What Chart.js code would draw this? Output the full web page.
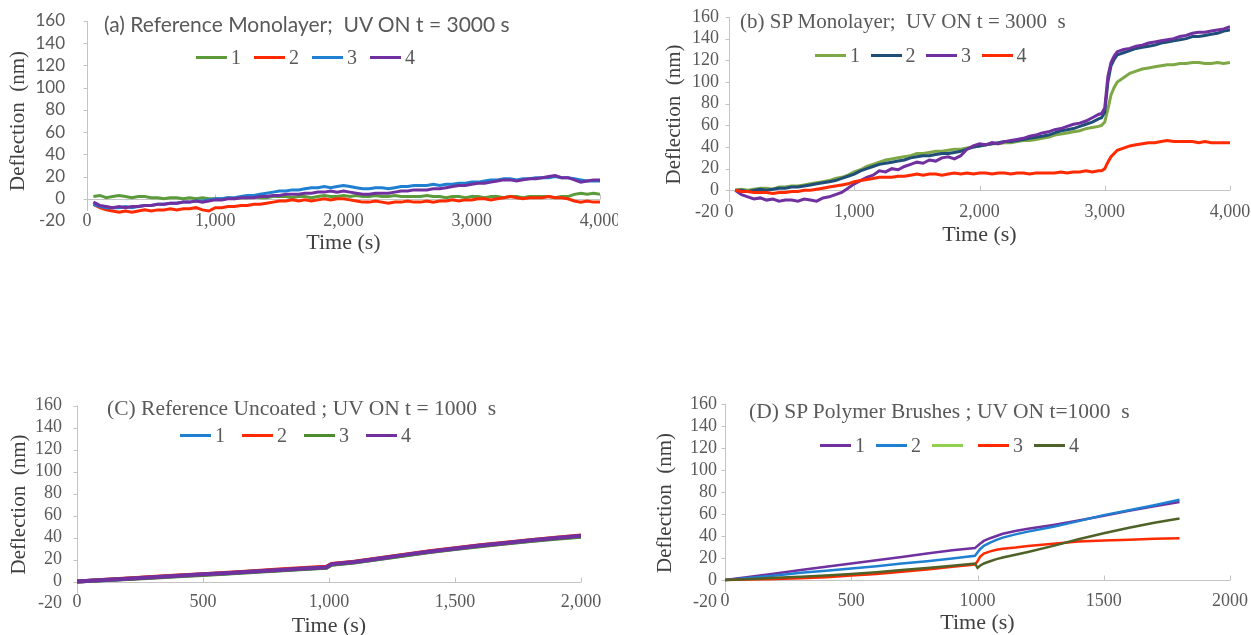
<!DOCTYPE html>
<html>
<head>
<meta charset="utf-8">
<title>Deflection vs time</title>
<script src="https://cdn.jsdelivr.net/npm/chart.js@4.4.1/dist/chart.umd.min.js"></script>
<style>
  html, body { margin: 0; padding: 0; background: #fff; }
  #page { position: relative; width: 1251px; height: 635px; overflow: hidden; }
  canvas { position: absolute; }
  .title { position: absolute; white-space: pre; color: #595959; line-height: 24px; height: 24px; }
  .legend { position: absolute; display: flex; align-items: center; height: 24px;
            font-family: 'Liberation Serif', 'DejaVu Serif', serif; font-size: 20px; color: #595959; }
  .legend .item { display: flex; align-items: center; }
  .legend .swatch { display: inline-block; width: 31px; height: 3px; }
  .legend .lbl { margin-left: 4px; }
</style>
</head>
<body>
<div id="page">
  <canvas id="chartA" width="618" height="262" style="left:0;top:0"></canvas>
  <canvas id="chartB" width="621" height="262" style="left:630px;top:0"></canvas>
  <canvas id="chartC" width="625" height="250" style="left:0;top:385px"></canvas>
  <canvas id="chartD" width="621" height="250" style="left:630px;top:385px"></canvas>
</div>
<script>
// ---- (a) Reference Monolayer, UV ON at 3000 s ----
const aTime = [50,100,150,200,250,300,350,400,450,500,550,600,650,700,750,800,850,900,950,1000,
  1050,1100,1150,1200,1250,1300,1350,1400,1450,1500,1550,1600,1650,1700,1750,1800,1850,1900,1950,2000,
  2050,2100,2150,2200,2250,2300,2350,2400,2450,2500,2550,2600,2650,2700,2750,2800,2850,2900,2950,3000,
  3050,3100,3150,3200,3250,3300,3350,3400,3450,3500,3550,3600,3650,3700,3750,3800,3850,3900,3950,4000];
const aLabels = ['1', '2', '3', '4'];
const aSeries1 = [2,3,1,2,3,2,1,2,2,1, 1,0,1,1,0,1,0,1,0,0, 0,1,0,1,1,2,1,1,2,2, 2,1,2,2,1,2,3,2,2,3,
  2,3,2,2,3,2,2,3,2,2, 2,2,3,2,2,1,2,2,1,2, 2,1,2,2,1,2,2,1,2,2, 2,2,1,2,2,4,5,4,5,4];
const aSeries2 = [-5,-8,-10,-11,-12,-11,-12,-11,-10,-11, -10,-10,-9,-10,-9,-9,-8,-10,-11,-8,
  -8,-7,-7,-6,-6,-5,-5,-4,-3,-2, -2,-1,-2,-1,-2,-1,0,-1,0,0, -1,-2,-3,-3,-2,-3,-4,-3,-3,-2,
  -3,-3,-2,-3,-2,-2,-1,-2,-1,-1, 0,0,-1,0,1,2,1,0,1,1, 1,2,1,1,0,-2,-3,-2,-3,-3];
const aSeries3 = [-5,-7,-8,-8,-8,-7,-8,-7,-6,-6, -5,-5,-4,-4,-3,-3,-2,-2,-1,0, 0,1,1,2,3,3,4,5,6,7,
  7,8,8,9,10,10,11,10,11,12, 11,10,9,9,10,10,9,10,11,11, 12,12,12,13,12,13,13,14,14,15,
  15,16,17,17,18,18,17,18,18,19, 19,19,20,19,19,18,17,16,16,16];
const aSeries4 = [-3,-6,-7,-8,-7,-8,-7,-7,-6,-6, -5,-5,-4,-4,-3,-3,-2,-3,-2,-1, -1,0,0,1,1,1,2,2,3,3,
  4,4,4,5,5,6,6,7,6,7, 6,5,4,4,5,5,5,6,7,7, 8,8,8,9,9,10,11,12,12,13,
  14,14,15,16,17,17,16,17,18,18, 19,20,21,19,19,17,15,16,17,17];

// ---- (b) SP Monolayer, UV ON at 3000 s ----
const bTime = [50,100,150,200,250,300,350,400,450,500,550,600,650,700,750,800,850,900,950,1000,
  1050,1100,1150,1200,1250,1300,1350,1400,1450,1500,1550,1600,1650,1700,1750,1800,1850,1900,1950,2000,
  2050,2100,2150,2200,2250,2300,2350,2400,2450,2500,2550,2600,2650,2700,2750,2800,2850,2900,2950,
  2975,3000,3025,3050,3075,3100,
  3150,3200,3250,3300,3350,3400,3450,3500,3550,3600,3650,3700,3750,3800,3850,3900,3950,4000];
const bLabels = ['1', '2', '3', '4'];
const bSeries1 = [0,1,0,1,2,2,1,3,3,4, 4,5,6,7,8,9,11,12,14,17, 19,22,24,26,28,29,30,31,32,34,
  34,35,36,36,37,38,38,39,40,41, 42,43,43,44,44,45,46,46,47,48, 49,51,52,53,54,55,57,58,59,
  60,63,75,88,95,100, 104,108,110,112,113,114,115,116,116,117,117,118,118,117,117,118,117,118];
const bSeries2 = [0,0,-1,0,1,0,1,2,2,3, 3,4,5,6,7,8,9,11,13,15, 18,20,22,24,25,26,27,28,30,31,
  32,32,33,34,34,35,36,38,40,41, 42,43,44,45,45,46,47,48,49,50, 51,53,55,56,57,59,61,63,66,
  67,72,100,115,121,125, 127,129,131,132,133,134,136,137,138,139,140,142,142,143,144,145,147,148];
const bSeries3 = [0,-4,-6,-8,-7,-9,-8,-10,-9,-9, -10,-8,-9,-10,-7,-6,-4,-2,2,6, 9,12,14,18,17,20,19,22,24,26,
  25,28,27,30,31,29,32,38,41,43, 42,44,43,45,46,47,48,50,51,53, 54,56,57,59,61,62,64,67,70,
  71,76,105,118,124,128, 130,131,133,134,136,137,138,139,140,142,143,145,146,146,147,148,149,151];
const bSeries4 = [0,-1,-1,-2,-2,-2,-3,-2,-2,-1, -1,0,0,1,2,3,4,5,6,8, 9,10,11,12,12,12,13,13,14,15,
  14,15,15,14,15,16,15,16,15,16, 16,15,16,16,15,16,16,15,16,16, 16,16,17,16,17,17,18,17,18,
  18,20,26,31,34,37, 39,41,42,43,44,44,45,46,45,45,45,45,44,45,44,44,44,44];

// ---- (C) Reference Uncoated, UV ON at 1000 s ----
const cTime = [0,100,200,300,400,500,600,700,800,900,990,1010,1100,1200,1300,1400,1500,1600,1700,1800,1900,2000];
const cLabels = ['1', '2', '3', '4'];
const cSeries1 = [0,1.2,2.5,3.8,5,6.3,7.6,9,10.3,11.6,12.8,15.5,17.5,20.7,23.9,27,29.8,32.4,34.8,37.1,39.2,41];
const cSeries2 = [0,1.4,2.8,4.1,5.4,6.7,8,9.4,10.8,12.2,13.5,16,18,21.2,24.4,27.5,30.3,32.9,35.3,37.6,39.8,41.8];
const cSeries3 = [0,1.1,2.3,3.5,4.7,6,7.3,8.7,10,11.3,12.5,15.2,17.2,20.4,23.6,26.7,29.5,32.1,34.5,36.8,38.9,40.7];
const cSeries4 = [0,1.3,2.6,3.9,5.2,6.5,7.8,9.2,10.5,11.9,13,15.8,17.8,21,24.2,27.3,30.1,32.7,35.1,37.4,39.5,41.5];

// ---- (D) SP Polymer Brushes, UV ON at 1000 s ----
const dTime = [0,100,200,300,400,500,600,700,800,900,990,1000,1010,1025,1050,1075,1100,1150,1200,1300,1400,1500,1600,1700,1800];
const dLabels = ['1', '2', '', '3', '4'];
const dSeries1 = [0,3,6,9,12,15,18,21,24,27,29,31,33,35.5,38,40,42,44.5,46.5,50,54,58.5,63,67,71];
const dSeries2 = [0,2,4,6.5,8.5,10.5,12.5,15,17,19.5,22,25,28,31,34,36.5,38.5,41.5,44,48.5,53.5,59,63.5,68,73];
const dSeriesBlank = [];
const dSeries3 = [0,0.5,1,1.5,2.5,4,5.5,7.5,9.5,12,14,17,21,24,26,27.5,28.5,29.5,31,33,35,36,36.5,37.5,38];
const dSeries4 = [0,1,2,3,4,5.5,7,9,11,13,15,11,13,15,17,19,20.5,23,25.5,31,37,42.5,47.5,52,56];

const SERIF = "'Liberation Serif', 'DejaVu Serif', serif";
const SANS = "Lato, 'Open Sans', sans-serif";
const TICK_COLOR = '#595959';
const TITLE_COLOR = '#404040';
const AXIS_COLOR = '#c4c4c4';

// Excel style axes: y line with outside ticks, x line at y = 0 with inside ticks
const excelAxes = {
    id: 'excelAxes',
    beforeDatasetsDraw(chart) {
        const { ctx, chartArea: area, scales: { x, y } } = chart;
        const left = Math.round(area.left) + 0.5;
        const y0 = Math.round(y.getPixelForValue(0)) + 0.5;
        ctx.save();
        ctx.strokeStyle = AXIS_COLOR;
        ctx.lineWidth = 1;
        ctx.beginPath();
        ctx.moveTo(left, area.top);
        ctx.lineTo(left, area.bottom - 10);
        y.ticks.forEach(t => {
            const py = Math.round(y.getPixelForValue(t.value)) + 0.5;
            if (t.value < 0) return;
            ctx.moveTo(left - 4, py);
            ctx.lineTo(left, py);
        });
        ctx.moveTo(left, y0);
        ctx.lineTo(area.right, y0);
        x.ticks.forEach(t => {
            const px = Math.round(x.getPixelForValue(t.value)) + 0.5;
            ctx.moveTo(px, y0);
            ctx.lineTo(px, y0 - 5);
        });
        ctx.stroke();
        ctx.restore();
    }
};

function addText(cls, text, style) {
    const el = document.createElement('div');
    el.className = cls;
    el.textContent = text;
    Object.assign(el.style, style);
    document.getElementById('page').appendChild(el);
    return el;
}

function addLegend(p) {
    const box = addText('legend', '', { left: p.legendLeft + 'px', top: (p.legendY - 12) + 'px' });
    p.series.forEach(s => {
        const item = document.createElement('span');
        item.className = 'item';
        item.style.marginRight = p.legendGap + 'px';
        const sw = document.createElement('span');
        sw.className = 'swatch';
        sw.style.background = s.color;
        const lbl = document.createElement('span');
        lbl.className = 'lbl';
        lbl.textContent = s.label;
        item.appendChild(sw);
        item.appendChild(lbl);
        box.appendChild(item);
    });
}

function makePanel(p) {
    const n = p.series.length;
    new Chart(document.getElementById(p.id), {
        type: 'line',
        data: {
            datasets: p.series.map((s, i) => ({
                label: s.label,
                data: s.values.map((v, k) => ({ x: p.times[k], y: v })),
                borderColor: s.color,
                backgroundColor: s.color,
                borderWidth: p.lineWidth,
                pointRadius: 0,
                tension: 0,
                order: n - i
            }))
        },
        options: {
            responsive: false,
            animation: false,
            layout: { padding: { top: p.padTop, right: p.padRight, left: 0, bottom: 0 } },
            plugins: { legend: { display: false }, title: { display: false }, tooltip: { enabled: false } },
            scales: {
                x: {
                    type: 'linear',
                    min: 0,
                    max: p.xMax,
                    grid: { display: false, drawTicks: false },
                    border: { display: false },
                    ticks: {
                        // mirror keeps the labels unclipped so they can sit level with "-20"
                        mirror: true,
                        stepSize: p.xStep,
                        padding: p.xTickPad,
                        color: TICK_COLOR,
                        font: { family: SERIF, size: 18, lineHeight: 1.2 },
                        maxRotation: 0,
                        autoSkip: false,
                        callback: v => p.comma ? v.toLocaleString('en-US') : String(v)
                    },
                    title: {
                        display: true,
                        text: 'Time (s)',
                        color: TITLE_COLOR,
                        font: { family: SERIF, size: 22, lineHeight: 1 },
                        padding: { top: 0, bottom: p.xTitlePad }
                    },
                    afterFit(s) { s.height = p.xHeight; s.paddingLeft = 0; s.paddingRight = 0; }
                },
                y: {
                    min: -20,
                    max: 160,
                    grid: { display: false, drawTicks: false },
                    border: { display: false },
                    ticks: {
                        stepSize: 20,
                        autoSkip: false,
                        padding: p.yTickPad,
                        color: TICK_COLOR,
                        font: p.yTickFont
                    },
                    title: {
                        display: true,
                        text: 'Deflection  (nm)',
                        color: TITLE_COLOR,
                        font: { family: SERIF, size: 21, lineHeight: 1 },
                        padding: { top: p.yTitlePad, bottom: 0 }
                    },
                    afterFit(s) { s.width = p.yWidth; s.paddingTop = 0; s.paddingBottom = 0; }
                }
            }
        },
        plugins: [excelAxes]
    });
    addText('title', p.title, {
        left: p.titleLeft + 'px', top: (p.titleY - 12) + 'px',
        fontFamily: p.titleFont, fontSize: p.titleSize + 'px'
    });
    addLegend(p);
}

function pack(labels, colors, values) {
    return labels.map((l, i) => ({ label: l, color: colors[i], values: values[i] }));
}

document.addEventListener('DOMContentLoaded', () => {
    makePanel({
        id: 'chartA', times: aTime, xMax: 4000, xStep: 1000, comma: true,
        series: pack(aLabels, ['#5b9b3b', '#ff2a00', '#1f7fd1', '#7030a0'], [aSeries1, aSeries2, aSeries3, aSeries4]),
        lineWidth: 3, padTop: 21, padRight: 18, yWidth: 87, xHeight: 41,
        xTickPad: -11.5, yTickPad: 22, xTitlePad: 8, yTitlePad: 7.5,
        yTickFont: { family: SANS, size: 17 },
        title: '(a) Reference Monolayer;  UV ON t = 3000 s', titleFont: SANS, titleSize: 21, titleLeft: 104, titleY: 24,
        legendLeft: 196, legendY: 57, legendGap: 13
    });
    makePanel({
        id: 'chartB', times: bTime, xMax: 4000, xStep: 1000, comma: true,
        series: pack(bLabels, ['#7ea845', '#1f4e79', '#7030a0', '#ff2a00'], [bSeries1, bSeries2, bSeries3, bSeries4]),
        lineWidth: 3, padTop: 17, padRight: 21, yWidth: 99, xHeight: 50,
        xTickPad: -10.8, yTickPad: 10, xTitlePad: 16, yTitlePad: 33.5,
        yTickFont: { family: SERIF, size: 18 },
        title: '(b) SP Monolayer;  UV ON t = 3000  s', titleFont: SERIF, titleSize: 21, titleLeft: 740, titleY: 21,
        legendLeft: 815, legendY: 55, legendGap: 10.5
    });
    makePanel({
        id: 'chartC', times: cTime, xMax: 2000, xStep: 500, comma: true,
        series: pack(cLabels, ['#1f7fd1', '#ff2a00', '#4e8a2e', '#7030a0'], [cSeries1, cSeries2, cSeries3, cSeries4]),
        lineWidth: 4, padTop: 20.5, padRight: 44, yWidth: 77, xHeight: 31.5,
        xTickPad: -9.3, yTickPad: 15, xTitlePad: -2, yTitlePad: 8.5,
        yTickFont: { family: SERIF, size: 18 },
        title: '(C) Reference Uncoated ; UV ON t = 1000  s', titleFont: SERIF, titleSize: 21.5, titleLeft: 107, titleY: 408,
        legendLeft: 180, legendY: 435, legendGap: 17
    });
    makePanel({
        id: 'chartD', times: dTime, xMax: 2000, xStep: 500, comma: false,
        series: pack(dLabels, ['#7030a0', '#1f7fd1', '#92d050', '#ff2a00', '#4f6228'],
            [dSeries1, dSeries2, dSeriesBlank, dSeries3, dSeries4]),
        lineWidth: 2.5, padTop: 19, padRight: 21, yWidth: 95, xHeight: 33,
        xTickPad: -9.8, yTickPad: 8, xTitlePad: 1, yTitlePad: 24.5,
        yTickFont: { family: SERIF, size: 18 },
        title: '(D) SP Polymer Brushes ; UV ON t=1000  s', titleFont: SERIF, titleSize: 21.5, titleLeft: 749, titleY: 411,
        legendLeft: 820, legendY: 445, legendGap: 11
    });
});
</script>
</body>
</html>
